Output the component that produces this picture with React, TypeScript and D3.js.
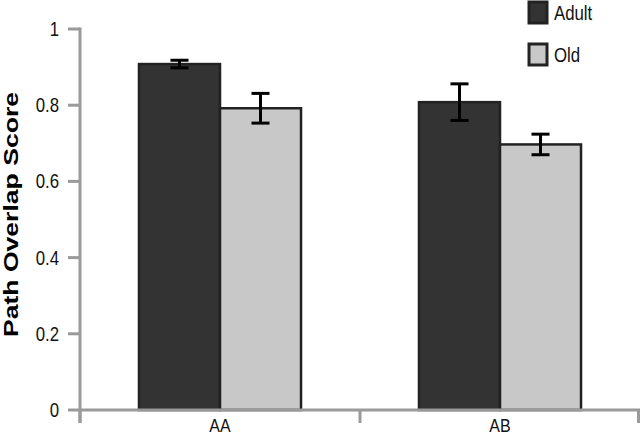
import React from "react";
import * as d3 from "d3";

const categories = ["AA", "AB"];
const seriesNames = ["Adult", "Old"];
const adultValues = [0.908, 0.808];
const adultErrors = [0.01, 0.048];
const oldValues = [0.792, 0.697];
const oldErrors = [0.039, 0.027];
const yTicks = [0, 0.2, 0.4, 0.6, 0.8, 1];
const yLabel = "Path Overlap Score";

const fills = ["#333333", "#c8c8c8"];
const sans = "'Liberation Sans', Arial, sans-serif";

export default function App() {
  const W = 640, H = 435;
  const x0 = 80, x1 = 640, yTop = 29, yBot = 410;
  const y = d3.scaleLinear().domain([0, 1]).range([yBot, yTop]);
  const xb = d3.scaleBand<string>().domain(categories).range([x0, x1]).paddingInner(0).paddingOuter(0);
  const xs = d3.scaleBand<string>().domain(seriesNames).range([0, xb.bandwidth()]).paddingInner(0).paddingOuter(0.728);
  const series = [
    { name: "Adult", values: adultValues, errors: adultErrors },
    { name: "Old", values: oldValues, errors: oldErrors },
  ];
  const axisColor = "#9a9a9a";
  const sx = 0.84;
  return (
    <svg width={W} height={H} style={{ position: "absolute", left: 0, top: 0, background: "#fff" }}>
      {series.map((s, si) =>
        categories.map((c, ci) => {
          const bx = (xb(c) as number) + (xs(s.name) as number);
          const bw = xs.bandwidth();
          const v = s.values[ci];
          return (
            <rect key={s.name + c} x={bx} y={y(v)} width={bw} height={y(0) - y(v)}
              fill={fills[si]} stroke="#222" strokeWidth={2.5} />
          );
        })
      )}
      {series.map((s) =>
        categories.map((c, ci) => {
          const cx = (xb(c) as number) + (xs(s.name) as number) + xs.bandwidth() / 2;
          const v = s.values[ci], e = s.errors[ci];
          const hi = y(v + e), lo = y(v - e);
          return (
            <g key={"e" + s.name + c} stroke="#000" strokeWidth={3}>
              <line x1={cx} x2={cx} y1={hi} y2={lo} />
              <line x1={cx - 9} x2={cx + 9} y1={hi} y2={hi} />
              <line x1={cx - 9} x2={cx + 9} y1={lo} y2={lo} />
            </g>
          );
        })
      )}
      <line x1={x0} x2={x0} y1={yTop - 1.5} y2={423} stroke={axisColor} strokeWidth={3} />
      {yTicks.map((t) => (
        <g key={"yt" + t}>
          <line x1={68} x2={x0} y1={y(t)} y2={y(t)} stroke={axisColor} strokeWidth={3} />
          <text transform={`translate(59,${y(t)}) scale(${sx},1)`} dy="0.35em" textAnchor="end"
            fontFamily={sans} fontSize={20} fill="#111">
            {String(t)}
          </text>
        </g>
      ))}
      <line x1={x0} x2={x1} y1={yBot} y2={yBot} stroke={axisColor} strokeWidth={3} />
      {[x0, ...categories.map((c) => (xb(c) as number) + xb.bandwidth())].map((tx, i) => (
        <line key={"xt" + i} x1={Math.min(tx, 638.5)} x2={Math.min(tx, 638.5)} y1={yBot} y2={423} stroke={axisColor} strokeWidth={3} />
      ))}
      {categories.map((c) => (
        <text key={"xl" + c} transform={`translate(${(xb(c) as number) + xb.bandwidth() / 2},432) scale(${sx},1)`}
          textAnchor="middle" fontFamily={sans} fontSize={19} fill="#111">{c}</text>
      ))}
      <text transform={`translate(18,${(92 + 337) / 2}) rotate(-90)`} textAnchor="middle"
        fontFamily={sans} fontWeight="bold" fontSize={21}
        textLength={245} lengthAdjust="spacingAndGlyphs" fill="#000">{yLabel}</text>
      {seriesNames.map((n, i) => {
        const ly = i === 0 ? 2 : 44;
        return (
          <g key={"lg" + n}>
            <rect x={529} y={ly} width={18} height={21} fill={fills[i]} stroke="#222" strokeWidth={3} />
            <text transform={`translate(554,${ly + 11}) scale(${sx},1)`} dy="0.35em"
              fontFamily={sans} fontSize={20} fill="#111">{n}</text>
          </g>
        );
      })}
    </svg>
  );
}
